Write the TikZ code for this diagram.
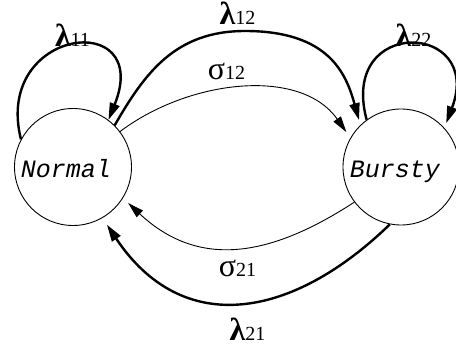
\documentclass[tikz,border=0pt]{standalone}
\usepackage{fontspec}
\setmainfont{Liberation Serif}
\setmonofont{Liberation Mono}
\usetikzlibrary{arrows.meta}
\newcommand{\glab}[2]{{\fontsize{32}{32}\selectfont #1}{\fontsize{20}{20}\selectfont #2}}
\begin{document}
\begin{tikzpicture}[x=1pt,y=-1pt,
  state/.style={circle,draw,line width=0.9pt,inner sep=0pt,minimum size=117pt},
  thickarc/.style={line width=2.4pt,-{Triangle[length=17pt,width=10pt]}},
  thinarc/.style={line width=0.9pt,-{Triangle[length=16pt,width=9pt]}},
  glabel/.style={anchor=base,inner sep=0pt},
  sname/.style={anchor=base,inner sep=0pt,font=\ttfamily\itshape\fontsize{25}{25}\selectfont}]
\useasboundingbox (0,0) rectangle (456,347);
\node[state] (N) at (73,167) {};
\node[state,minimum size=116pt] (B) at (401,167) {};
\node[sname] (Ntext) at (66,178) {Normal};
\node[sname] (Btext) at (395,178) {Bursty};
\coordinate (top12) at (245,31);
% self loops
\draw[thickarc] (N.152) .. controls +(-28,-112) and +(45,-112) .. (N.53);
\draw[thickarc,shorten >=5pt] (B.126) .. controls +(-28,-104) and +(40,-106) .. (B.42);
% lambda 12
\draw[thickarc,shorten >=5pt] (N.45) .. controls +(30,-52) and +(-70,0) .. (top12)
   .. controls +(85,0) and +(-14,-50) .. (B.134);
% sigma 12
\draw[thinarc,shorten >=7pt] (N.37) .. controls +(69,-52) and +(-50,-71) .. (B.150);
% sigma 21
\draw[thinarc,shorten >=7pt] (B.217) .. controls +(-86,56) and +(75,70) .. (N.328);
% lambda 21
\draw[thickarc,shorten >=8pt] (B.259) .. controls +(-98,95) and +(80,120) .. (N.300);
% labels
\node[glabel] (l11) at (72.5,47) {\glab{\bfseries λ}{11}};
\node[glabel] (l22) at (413.5,47) {\glab{\bfseries λ}{22}};
\node[glabel] (l12) at (237.5,25) {\glab{\bfseries λ}{12}};
\node[glabel] (s12) at (226.5,80) {\glab{σ}{12}};
\node[glabel] (s21) at (237.5,277) {\glab{σ}{21}};
\node[glabel] (l21) at (247.5,341) {\glab{\bfseries λ}{21}};
\end{tikzpicture}
\end{document}
